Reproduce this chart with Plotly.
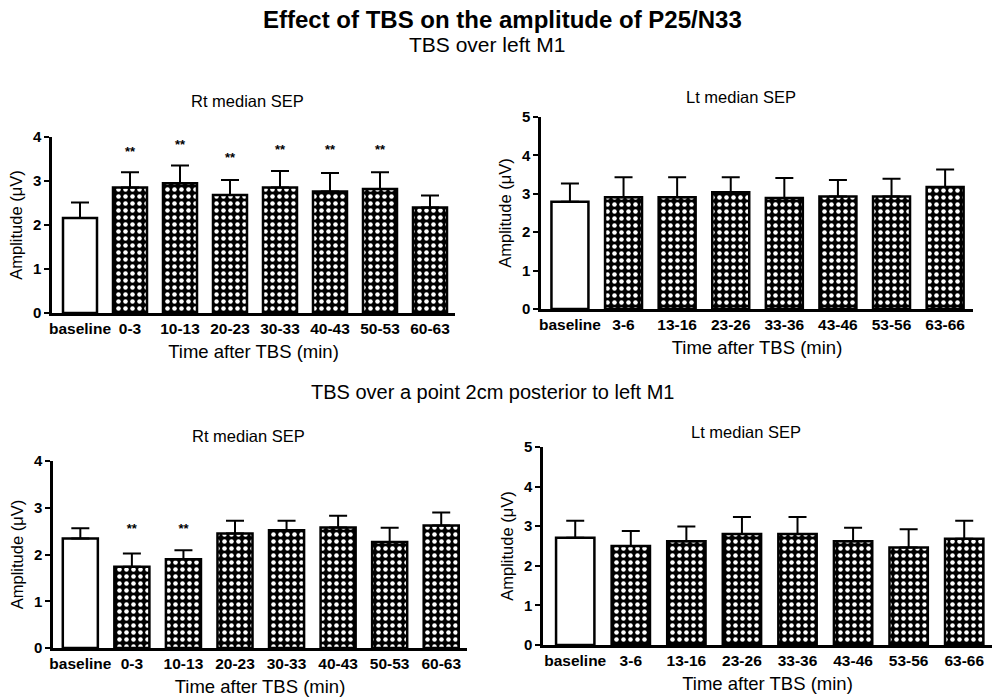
import plotly.graph_objects as go

W, H = 993, 698

# ---------------- data ----------------
cats_rt = ["baseline", "0-3", "10-13", "20-23", "30-33", "40-43", "50-53", "60-63"]
cats_lt = ["baseline", "3-6", "13-16", "23-26", "33-36", "43-46", "53-56", "63-66"]

# TBS over left M1
m1_rt_mean = [2.16, 2.85, 2.95, 2.68, 2.85, 2.76, 2.82, 2.40]
m1_rt_top = [2.51, 3.20, 3.35, 3.02, 3.23, 3.18, 3.20, 2.67]
m1_rt_stars = ["", "**", "**", "**", "**", "**", "**", ""]
m1_rt_star_y = [None, 3.65, 3.81, 3.51, 3.68, 3.68, 3.68, None]

m1_lt_mean = [2.79, 2.91, 2.91, 3.04, 2.89, 2.93, 2.93, 3.18]
m1_lt_top = [3.27, 3.43, 3.43, 3.43, 3.41, 3.36, 3.39, 3.63]

# TBS over a point 2cm posterior to left M1
post_rt_mean = [2.34, 1.74, 1.90, 2.45, 2.52, 2.58, 2.27, 2.62]
post_rt_top = [2.56, 2.02, 2.09, 2.72, 2.72, 2.83, 2.57, 2.90]
post_rt_stars = ["", "**", "**", "", "", "", "", ""]
post_rt_star_y = [None, 2.52, 2.52, None, None, None, None, None]

post_lt_mean = [2.71, 2.50, 2.62, 2.80, 2.80, 2.62, 2.46, 2.68]
post_lt_top = [3.14, 2.88, 2.99, 3.23, 3.23, 2.96, 2.92, 3.14]

FONT = "Liberation Sans, Arial, sans-serif"

def px_x(v):
    return v / W

def px_y(v):
    return 1 - v / H

panels = [
    dict(cats=cats_rt, mean=m1_rt_mean, top=m1_rt_top, stars=m1_rt_stars, star_y=m1_rt_star_y,
         xd=(52, 455), yd=(313, 137), ymax=4, xr=[-0.56, 7.5], bw=0.68),
    dict(cats=cats_lt, mean=m1_lt_mean, top=m1_lt_top, stars=None, star_y=None,
         xd=(541, 973), yd=(309, 117), ymax=5, xr=[-0.54, 7.52], bw=0.69),
    dict(cats=cats_rt, mean=post_rt_mean, top=post_rt_top, stars=post_rt_stars, star_y=post_rt_star_y,
         xd=(53, 467), yd=(648, 461), ymax=4, xr=[-0.53, 7.5], bw=0.68),
    dict(cats=cats_lt, mean=post_lt_mean, top=post_lt_top, stars=None, star_y=None,
         xd=(543, 992), yd=(645, 447), ymax=5, xr=[-0.58, 7.5], bw=0.69),
]

fig = go.Figure()
layout_axes = {}

for i, p in enumerate(panels, start=1):
    xa = "x" if i == 1 else f"x{i}"
    ya = "y" if i == 1 else f"y{i}"
    err_plus = [t - m for t, m in zip(p["top"], p["mean"])]
    err_minus = [0] * len(p["mean"])
    # baseline (open bar)
    fig.add_trace(go.Bar(
        x=p["cats"][:1], y=p["mean"][:1], xaxis=xa, yaxis=ya, width=p["bw"],
        marker=dict(color="white", line=dict(color="black", width=2.5)),
        error_y=dict(type="data", array=err_plus[:1], arrayminus=err_minus[:1], symmetric=False,
                     color="black", thickness=2, width=9),
        showlegend=False, hoverinfo="x+y",
    ))
    # post-TBS (patterned bars)
    fig.add_trace(go.Bar(
        x=p["cats"][1:], y=p["mean"][1:], xaxis=xa, yaxis=ya, width=p["bw"],
        marker=dict(color="black", line=dict(color="black", width=2.5),
                    pattern=dict(shape=".", fgcolor="white", bgcolor="black",
                                 size=7, solidity=0.33, fillmode="replace")),
        error_y=dict(type="data", array=err_plus[1:], arrayminus=err_minus[1:], symmetric=False,
                     color="black", thickness=2, width=9),
        showlegend=False, hoverinfo="x+y",
    ))
    if p["stars"]:
        sx = [c for c, s in zip(p["cats"], p["stars"]) if s]
        sy = [v for v, s in zip(p["star_y"], p["stars"]) if s]
        st = [s for s in p["stars"] if s]
        fig.add_trace(go.Scatter(
            x=sx, y=sy, text=st, mode="text", xaxis=xa, yaxis=ya,
            textfont=dict(family=FONT, size=13, color="black"),
            texttemplate="<b>%{text}</b>",
            showlegend=False, hoverinfo="skip",
        ))
    xkey = "xaxis" if i == 1 else f"xaxis{i}"
    ykey = "yaxis" if i == 1 else f"yaxis{i}"
    layout_axes[xkey] = dict(
        domain=[px_x(p["xd"][0]), px_x(p["xd"][1])], anchor=ya,
        type="category", categoryorder="array", categoryarray=p["cats"],
        range=p["xr"], showline=True, linecolor="black", linewidth=2.5,
        ticks="", showgrid=False, zeroline=False, automargin=False,
        tickfont=dict(family=FONT, size=15.5, color="black", weight="bold"),
        title=dict(text="Time after TBS (min)", font=dict(family=FONT, size=18.5, color="black"),
                   standoff=9),
        fixedrange=True,
    )
    layout_axes[ykey] = dict(
        domain=[px_y(p["yd"][0]), px_y(p["yd"][1])], anchor=xa,
        range=[0, p["ymax"]], dtick=1, showline=True, linecolor="black", linewidth=2.5,
        ticks="outside", ticklen=5, tickwidth=2, tickcolor="black",
        showgrid=False, zeroline=False, automargin=False,
        tickfont=dict(family=FONT, size=15, color="black", weight="bold"),
        title=dict(text="Amplitude (μV)", font=dict(family=FONT, size=16.5, color="black"),
                   standoff=7),
        fixedrange=True,
    )

annotations = [
    dict(text="<b>Effect of TBS on the amplitude of P25/N33</b>", x=px_x(502), y=px_y(19),
         font=dict(family=FONT, size=24, color="black")),
    dict(text="TBS over left M1", x=px_x(487), y=px_y(45),
         font=dict(family=FONT, size=21, color="black")),
    dict(text="TBS over a point 2cm posterior to left M1", x=px_x(493), y=px_y(392),
         font=dict(family=FONT, size=20, color="black")),
    dict(text="Rt median SEP", x=px_x(247), y=px_y(101),
         font=dict(family=FONT, size=16.5, color="black")),
    dict(text="Lt median SEP", x=px_x(741), y=px_y(97),
         font=dict(family=FONT, size=16.5, color="black")),
    dict(text="Rt median SEP", x=px_x(248), y=px_y(436),
         font=dict(family=FONT, size=16.5, color="black")),
    dict(text="Lt median SEP", x=px_x(746), y=px_y(432),
         font=dict(family=FONT, size=16.5, color="black")),
]
for a in annotations:
    a.update(xref="paper", yref="paper", showarrow=False, xanchor="center", yanchor="middle")

fig.update_layout(
    width=W, height=H, margin=dict(l=0, r=0, t=0, b=0, autoexpand=False),
    paper_bgcolor="white", plot_bgcolor="white",
    barmode="overlay", annotations=annotations,
    font=dict(family=FONT, color="black"),
    **layout_axes,
)

fig.write_html("out.html")
